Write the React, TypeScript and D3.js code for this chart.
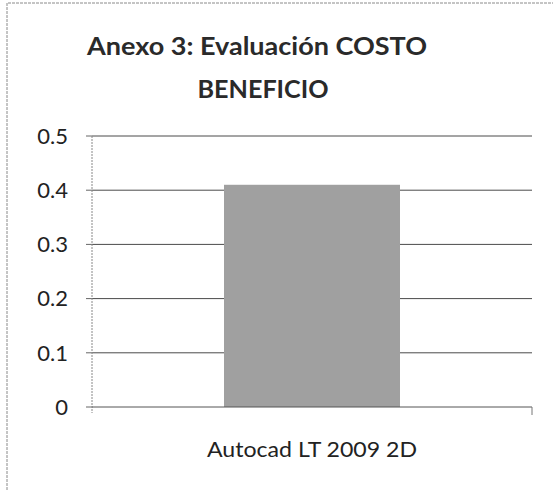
import React from "react";
import { scaleBand, scaleLinear } from "d3";

const categories = ["Autocad LT 2009 2D"];
const values = [0.41];
const yTicks = [0, 0.1, 0.2, 0.3, 0.4, 0.5];
const yTickLabels = ["0", "0.1", "0.2", "0.3", "0.4", "0.5"];
const titleLines = ["Anexo 3: Evaluación COSTO", "BENEFICIO"];

const App = () => {
  const width = 553;
  const height = 490;

  // plot area as measured on the scan
  const plot = { left: 92, right: 532, top: 136, bottom: 407 };

  const xScale = scaleBand()
    .domain(categories)
    .range([plot.left, plot.right])
    .paddingInner(0.6)
    .paddingOuter(0.3);

  const yScale = scaleLinear().domain([0, 0.5]).range([plot.bottom, plot.top]);

  const font = "Lato, 'Open Sans', sans-serif";

  return (
    <svg
      width={width}
      height={height}
      style={{ position: "absolute", left: 0, top: 0, background: "#fff" }}
    >
      {/* chart frame */}
      <path
        d={`M7,${height} L7,3 L${width},3`}
        fill="none"
        stroke="#8a8a8a"
        strokeDasharray="3,1"
      />

      {/* title */}
      <text
        x={257}
        y={55}
        textAnchor="middle"
        fontFamily={font}
        fontWeight="bold"
        fontSize={24}
        fill="#2a2a2a"
        textLength={340}
        lengthAdjust="spacingAndGlyphs"
      >
        {titleLines[0]}
      </text>
      <text
        x={263}
        y={98}
        textAnchor="middle"
        fontFamily={font}
        fontWeight="bold"
        fontSize={24}
        fill="#2a2a2a"
        textLength={131}
        lengthAdjust="spacingAndGlyphs"
      >
        {titleLines[1]}
      </text>

      {/* gridlines + y ticks */}
      {yTicks.map((t, i) => (
        <g key={t}>
          {t > 0 && (
            <line
              x1={plot.left}
              x2={plot.right}
              y1={yScale(t)}
              y2={yScale(t)}
              stroke="#4a4a4a"
              strokeWidth={1}
            />
          )}
          <line
            x1={plot.left - 6}
            x2={plot.left}
            y1={yScale(t)}
            y2={yScale(t)}
            stroke="#666"
          />
          <text
            x={68}
            y={yScale(t)}
            dy="0.35em"
            textAnchor="end"
            fontFamily={font}
            fontSize={22}
            fill="#222"
          >
            {yTickLabels[i]}
          </text>
        </g>
      ))}

      {/* y axis */}
      <line
        x1={plot.left}
        x2={plot.left}
        y1={plot.top}
        y2={plot.bottom + 6}
        stroke="#888"
        strokeDasharray="2,1"
      />

      {/* bars */}
      {categories.map((c, i) => (
        <rect
          key={c}
          x={xScale(c)}
          y={yScale(values[i])}
          width={xScale.bandwidth()}
          height={yScale(0) - yScale(values[i])}
          fill="#a0a0a0"
        />
      ))}

      {/* x axis */}
      <line
        x1={plot.left}
        x2={plot.right}
        y1={plot.bottom}
        y2={plot.bottom}
        stroke="#555"
      />
      <line
        x1={plot.right}
        x2={plot.right}
        y1={plot.bottom}
        y2={plot.bottom + 8}
        stroke="#777"
      />

      {categories.map((c) => (
        <text
          key={c}
          x={xScale(c)! + xScale.bandwidth() / 2}
          y={457}
          textAnchor="middle"
          fontFamily={font}
          fontSize={21}
          fill="#222"
          textLength={210}
          lengthAdjust="spacingAndGlyphs"
        >
          {c}
        </text>
      ))}
    </svg>
  );
};

export default App;
